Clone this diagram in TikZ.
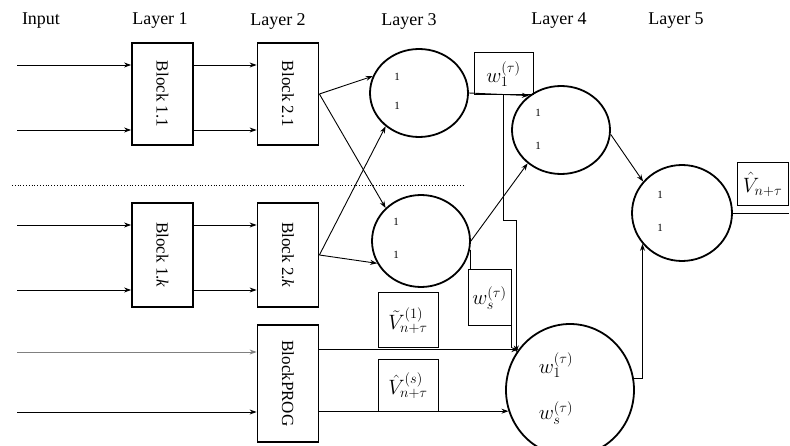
\documentclass[tikz,border=0pt]{standalone}
\usepackage{fontspec}
\setmainfont{Liberation Serif}
\usetikzlibrary{arrows.meta,shapes.geometric}
\tikzset{blk/.style={draw,line width=1.8pt,rotate=-90,minimum height=61pt,inner sep=2pt,font=\fontsize{17}{19}\selectfont},
  neur/.style={draw,ellipse,line width=1.8pt,inner sep=0pt},
  lbl/.style={draw,line width=1pt,inner sep=0pt,font=\huge},
  one/.style={font=\fontsize{11}{12}\selectfont},
  ttl/.style={font=\fontsize{18}{20}\selectfont},
  con/.style={line width=0.9pt,-{Stealth[length=7pt,width=5pt]}},
  ln/.style={line width=0.9pt}}

\begin{document}
\begin{tikzpicture}[x=1pt,y=-1pt]
\useasboundingbox (0,0) rectangle (790,446);
\node[ttl] (tin) at (41,21) {Input};
\node[ttl] (tl1) at (160,21) {Layer 1};
\node[ttl] (tl2) at (278,21) {Layer 2};
\node[ttl] (tl3) at (409,21) {Layer 3};
\node[ttl] (tl4) at (559,21) {Layer 4};
\node[ttl] (tl5) at (676,21) {Layer 5};

\node[blk,minimum width=102pt] (b11) at (162.5,94) {Block 1.1};
\node[blk,minimum width=102pt] (b21) at (288,94) {Block 2.1};
\node[blk,minimum width=104pt] (b1k) at (162.5,255) {Block 1.\textit{k}};
\node[blk,minimum width=104pt] (b2k) at (288,255) {Block 2.\textit{k}};
\node[blk,minimum width=117pt] (prog) at (288,383.5) {BlockPROG};

\draw [dotted,line width=0.8pt] (12,185)--(465,185);

\node[neur,minimum width=98pt,minimum height=88pt] (c31) at (419,93) {};
\node[neur,minimum width=98pt,minimum height=92pt] (c3k) at (421,241) {};
\node[neur,minimum width=98pt,minimum height=88pt] (c4) at (561,130) {};
\node[neur,minimum width=100pt,minimum height=96pt] (c5) at (682,213) {};
\node[neur,minimum width=128pt,minimum height=132pt] (cw) at (570,390) {};
\node[one] (c31a) at (397,77) {1};
\node[one] (c31b) at (397,106) {1};
\node[one] (c3ka) at (396,222) {1};
\node[one] (c3kb) at (396,255) {1};
\node[one] (c4a) at (538,113) {1};
\node[one] (c4b) at (538,146) {1};
\node[one] (c5a) at (660,195) {1};
\node[one] (c5b) at (660,228) {1};
\node[font=\huge] (cwa) at (556,365) {$w_1^{(\tau)}$};
\node[font=\huge] (cwb) at (556,413) {$w_s^{(\tau)}$};

\node[lbl,minimum width=59pt,minimum height=42pt] (w1) at (503.5,74) {$w_1^{(\tau)}$};
\node[lbl,minimum width=43pt,minimum height=56pt] (ws) at (489.5,298) {$w_s^{(\tau)}$};
\node[lbl,minimum width=60pt,minimum height=55pt] (vt) at (408,320.5) {$\tilde{V}^{(1)}_{n+\tau}$};
\node[lbl,minimum width=60pt,minimum height=51pt] (vh) at (408,385.5) {$\hat{V}^{(s)}_{n+\tau}$};
\node[lbl,minimum width=51pt,minimum height=43pt] (out) at (762.5,184.5) {$\hat{V}_{n+\tau}$};

\coordinate (in1) at (17,65);
\coordinate (in2) at (17,130);
\coordinate (in3) at (17,225);
\coordinate (in4) at (17,290);
\coordinate (in5) at (17,352);
\coordinate (in6) at (17,412);
\draw [con] (in1) -- (in1 -| b11.south);
\draw [con] (in2) -- (in2 -| b11.south);
\draw [con] (in3) -- (in3 -| b1k.south);
\draw [con] (in4) -- (in4 -| b1k.south);
\draw [con,draw=gray] (in5) -- (in5 -| prog.south);
\draw [con] (in6) -- (in6 -| prog.south);
\draw [con] (in1 -| b11.north) -- (in1 -| b21.south);
\draw [con] (in2 -| b11.north) -- (in2 -| b21.south);
\draw [con] (in3 -| b1k.north) -- (in3 -| b2k.south);
\draw [con] (in4 -| b1k.north) -- (in4 -| b2k.south);

\draw [con] (b21.north) -- (c31.160);
\draw [con] (b21.north) -- (c3k.137);
\draw [con] (b2k.north) -- (c31.225);
\draw [con] (b2k.north) -- (c3k.207);
\draw [con] (c31.east) -- (c4.133);
\draw [con] (c3k.east) -- (c4.225);
\draw [ln] (c3k.-10) -- (c3k.-10 |- ws.north);
\draw [ln] (ws.south east) -- (ws.south east |- vt.south);
\draw [con] (w1.south) -- ++(0,125) -| (cw.145);
\draw [con] (cw.142 -| prog.north) -- (cw.142);
\draw [con] (cw.199 -| prog.north) -- (cw.199);
\draw [con] (cw.10) -| (c5.218);
\draw [con] (c4.-5) -- (c5.141);
\draw [ln] (c5.east) -- (c5.east -| out.east);
\end{tikzpicture}
\end{document}
